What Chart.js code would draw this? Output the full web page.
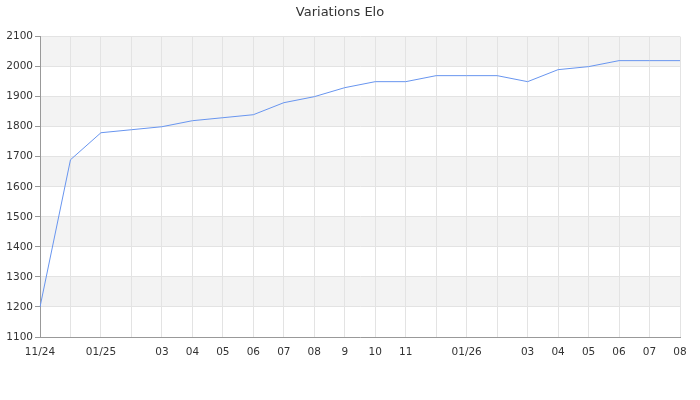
<!DOCTYPE html>
<html>
<head>
<meta charset="utf-8">
<script src="https://cdn.jsdelivr.net/npm/chart.js@4.4.1/dist/chart.umd.min.js"></script>
<style>
  html, body { margin: 0; padding: 0; background: #fff; }
  #wrap { width: 700px; height: 400px; }
</style>
</head>
<body>
<div id="wrap"><canvas id="elo-chart"></canvas></div>
<script>
// months from 11/24 to 08/26
const months = ['11/24', '12/24', '01/25', '02/25', '03/25', '04/25', '05/25', '06/25', '07/25', '08/25', '09/25',
    '10/25', '11/25', '12/25', '01/26', '02/26', '03/26', '04/26', '05/26', '06/26', '07/26', '08/26'];
// labels as shown under the axis (some are skipped)
const monthLabels = ['11/24', '', '01/25', '', '03', '04', '05', '06', '07', '08', '9',
    '10', '11', '', '01/26', '', '03', '04', '05', '06', '07', '08'];
const eloValues = [1200, 1690, 1780, 1790, 1800, 1820, 1830, 1840, 1880, 1900, 1930,
    1950, 1950, 1970, 1970, 1970, 1950, 1990, 2000, 2020, 2020, 2020];
const yTicks = [1100, 1200, 1300, 1400, 1500, 1600, 1700, 1800, 1900, 2000, 2100];

const fontFamily = '"DejaVu Sans", sans-serif';

// alternating grey bands behind the grid
const bandsPlugin = {
    id: 'bands',
    beforeDraw(chart) {
        const { ctx, chartArea, scales } = chart;
        ctx.save();
        ctx.fillStyle = '#f3f3f3';
        for (let i = yTicks.length - 1; i > 0; i -= 2) {
            const top = scales.y.getPixelForValue(yTicks[i]);
            const bottom = scales.y.getPixelForValue(yTicks[i - 1]);
            ctx.fillRect(chartArea.left, top, chartArea.right - chartArea.left, bottom - top);
        }
        ctx.restore();
    }
};

new Chart(document.getElementById('elo-chart').getContext('2d'), {
    type: 'line',
    data: {
        labels: months,
        datasets: [{
            label: 'Elo',
            data: eloValues,
            borderColor: '#6895ef',
            borderWidth: 1,
            pointRadius: 0,
            tension: 0,
            fill: false
        }]
    },
    options: {
        responsive: true,
        maintainAspectRatio: false,
        animation: false,
        layout: { padding: { left: 0, right: 20, top: 0, bottom: 0 } },
        plugins: {
            legend: { display: false },
            tooltip: { enabled: false },
            title: {
                display: true,
                text: 'Variations Elo',
                color: '#333',
                font: { family: fontFamily, size: 13, weight: 'normal' },
                padding: { top: 5, bottom: 16 }
            }
        },
        scales: {
            x: {
                offset: false,
                grid: {
                    offset: false,
                    color: '#e3e3e3',
                    drawTicks: false
                },
                border: { color: '#999' },
                ticks: {
                    autoSkip: false,
                    maxRotation: 0,
                    padding: 9,
                    color: '#333',
                    font: { family: fontFamily, size: 10.5 },
                    callback: (value, index) => monthLabels[index]
                },
                afterFit: (scale) => { scale.height = 63; }
            },
            y: {
                min: 1100,
                max: 2100,
                grid: {
                    color: (ctx) => ctx.tick.value % 100 === 0 ? '#e3e3e3' : 'rgba(0,0,0,0)',
                    tickColor: '#999',
                    tickLength: 5
                },
                border: { color: '#999' },
                ticks: {
                    stepSize: 50,
                    padding: 2,
                    color: '#333',
                    font: { family: fontFamily, size: 10.5 },
                    callback: (value) => value % 100 === 0 ? value : ''
                },
                afterFit: (scale) => { scale.width = 40; }
            }
        }
    },
    plugins: [bandsPlugin]
});
</script>
</body>
</html>
